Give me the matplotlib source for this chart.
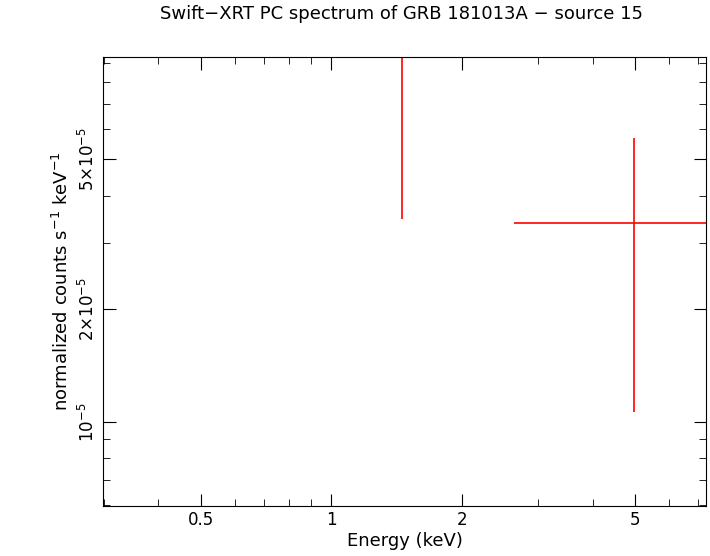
import matplotlib
matplotlib.use("Agg")
import matplotlib.pyplot as plt
from matplotlib.ticker import FixedLocator, NullFormatter, LogLocator

energy = [1.457, 4.99]
e_lo = [0.25, 2.64]
e_hi = [2.64, 9.0]
counts = [9.35e-5, 3.38e-5]
c_lo = [3.47e-5, 1.063e-5]
c_hi = [2.0e-4, 5.69e-5]

xticks = [0.5, 1, 2, 5]
xticklabels = ["0.5", "1", "2", "5"]
yticks = [1e-5, 2e-5, 5e-5]
yticklabels = ["10$^{-5}$", "2×10$^{-5}$", "5×10$^{-5}$"]

fig = plt.figure(figsize=(7.10, 5.56), dpi=100)
ax = fig.add_axes([103/710, 1-506/556, (706-103)/710, (506-57)/556])
for x, xl, xh, y, yl, yh in zip(energy, e_lo, e_hi, counts, c_lo, c_hi):
    ax.errorbar([x], [y], xerr=[[x-xl], [xh-x]], yerr=[[y-yl], [yh-y]],
                color="red", lw=1.2, capsize=0, fmt="none")
ax.set_xscale("log"); ax.set_yscale("log")
ax.set_xlim(0.298, 7.3); ax.set_ylim(5.98e-6, 9.35e-5)
ax.xaxis.set_major_locator(FixedLocator(xticks))
ax.set_xticklabels(xticklabels)
ax.xaxis.set_minor_locator(LogLocator(subs=range(1, 10)))
ax.xaxis.set_minor_formatter(NullFormatter())
ax.yaxis.set_major_locator(FixedLocator(yticks))
ax.set_yticklabels(yticklabels, rotation=90, va="center")
ax.yaxis.set_minor_locator(LogLocator(subs=range(1, 10)))
ax.yaxis.set_minor_formatter(NullFormatter())
ax.tick_params(which="both", direction="in", top=True, right=True, labelsize=12)
ax.tick_params(which="major", length=9)
ax.tick_params(which="minor", length=5)
ax.set_xlabel("Energy (keV)", fontsize=13, labelpad=2)
ax.set_ylabel("normalized counts s$^{-1}$ keV$^{-1}$", fontsize=13)
fig.text(0.565, 0.965, "Swift−XRT PC spectrum of GRB 181013A − source 15", ha="center", fontsize=13)
fig.savefig("out.png", dpi=100)
